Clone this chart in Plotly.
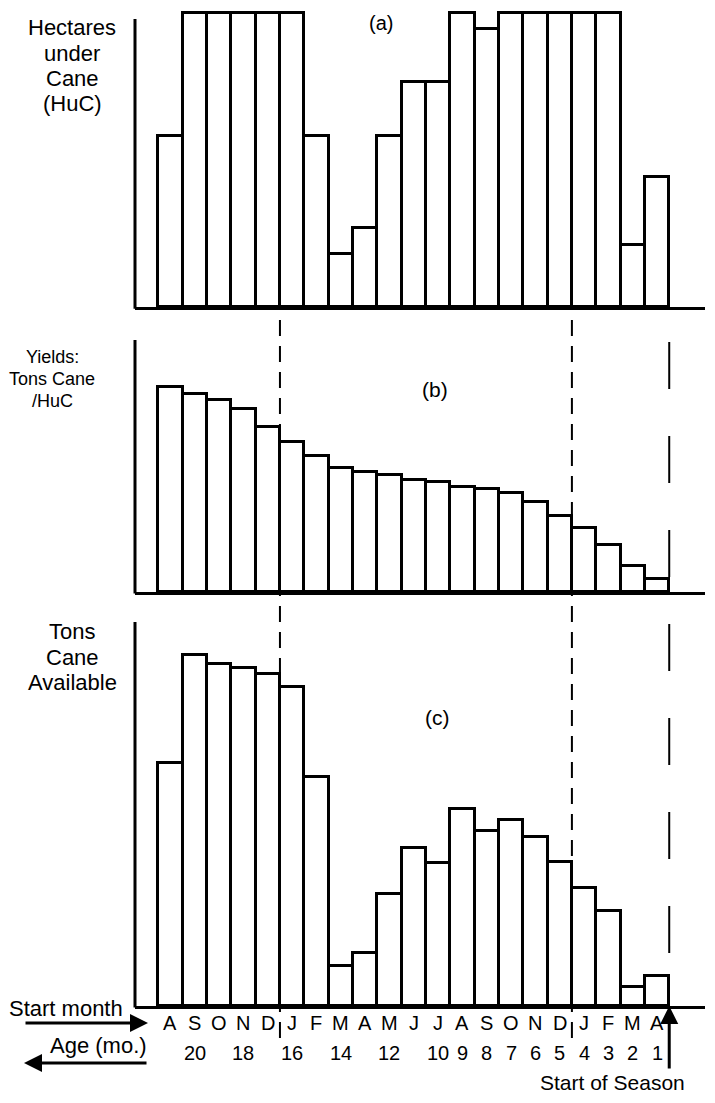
import plotly.graph_objects as go

# ---------------- data ----------------
months = ["A", "S", "O", "N", "D", "J", "F", "M", "A", "M", "J",
          "J", "A", "S", "O", "N", "D", "J", "F", "M", "A"]
age_labels = ["", "20", "", "18", "", "16", "", "14", "", "12", "",
              "10", "9", "8", "7", "6", "5", "4", "3", "2", "1"]
# (a) hectares under cane (relative, full = 1.0)
hectares = [0.583, 1.0, 1.0, 1.0, 1.0, 1.0, 0.583, 0.181, 0.269, 0.583, 0.767,
            0.767, 1.0, 0.946, 1.0, 1.0, 1.0, 1.0, 1.0, 0.212, 0.444]
# (b) yields: tons cane / HuC (relative units)
yields = [102.3, 99.0, 96.0, 91.5, 82.7, 74.8, 68.0, 61.8, 60.2, 58.5, 56.0,
          54.8, 52.3, 51.3, 49.3, 44.8, 38.0, 31.8, 23.5, 13.2, 6.5]
# (c) tons cane available (relative units)
tons = [81.1, 117.0, 114.0, 112.8, 110.6, 106.4, 76.2, 13.3, 17.7, 37.3, 52.6,
        47.8, 65.6, 58.4, 62.0, 56.4, 48.1, 39.4, 31.8, 6.4, 10.0]

# ---------------- layout helpers ----------------
PAGE_W, PAGE_H, OFF = 715, 1103, 8          # page body has an 8px margin
W, H = PAGE_W - 2 * OFF, PAGE_H - 2 * OFF
FONT = "Liberation Sans, Arial, Helvetica, sans-serif"
LW = 3


def py(p):
    return 1 - (p - OFF) / H


def px(p):
    return (p - OFF) / W


xpos = list(range(1, len(months) + 1))
x_left_px, x_right_px, bar0_px, bar_w = 135, 705, 158.3, 24.33
x_range = [0.5 - (bar0_px - x_left_px) / bar_w, 0.5 + (x_right_px - bar0_px) / bar_w]
x_domain = [px(x_left_px), px(x_right_px)]

# panel geometry: (values, baseline px, px per unit, domain top px, axis-line top px)
panels = [
    (hectares, 307.3, 294.0, 9, 19),
    (yields, 592.0, 2.0, 335, 340),
    (tons, 1006.0, 3.0, 612, 622),
]

fig = go.Figure()
layout = dict(
    width=W, height=H, autosize=False,
    margin=dict(l=0, r=0, t=0, b=0, pad=0),
    paper_bgcolor="white", plot_bgcolor="rgba(0,0,0,0)",
    showlegend=False, bargap=0,
    font=dict(family=FONT, color="black", size=20),
)
shapes = []
for k, (vals, base, scale, dtop, ltop) in enumerate(panels, start=1):
    sfx = "" if k == 1 else str(k)
    fig.add_trace(go.Bar(
        x=xpos, y=vals, width=1.0,
        marker=dict(color="white", line=dict(color="black", width=LW)),
        xaxis="x" + sfx, yaxis="y" + sfx, hoverinfo="skip",
    ))
    layout["xaxis" + sfx] = dict(
        domain=x_domain, range=x_range, anchor="y" + sfx,
        showline=True, linewidth=LW, linecolor="black", showgrid=False,
        zeroline=False, showticklabels=False, ticks="", fixedrange=True,
    )
    layout["yaxis" + sfx] = dict(
        domain=[py(base), py(dtop)], range=[0, (base - dtop) / scale],
        anchor="x" + sfx, showline=False, showgrid=False, zeroline=False,
        showticklabels=False, ticks="", fixedrange=True,
    )
    # vertical (y) axis line
    shapes.append(dict(type="line", xref="paper", yref="paper",
                       x0=px(x_left_px), x1=px(x_left_px),
                       y0=py(base + 1.5), y1=py(ltop),
                       line=dict(color="black", width=LW)))

# dashed year boundaries (between D and J) and start-of-season line
year_breaks = [i + 0.5 for i in range(1, len(months)) if months[i - 1] == "D"]
for xb in year_breaks:
    shapes.append(dict(type="line", xref="x3", yref="paper", x0=xb, x1=xb,
                       y0=py(320), y1=py(1040), layer="below",
                       line=dict(color="black", width=2, dash="16px,10px")))
season_x = len(months) + 0.5
shapes.append(dict(type="line", xref="x3", yref="paper", x0=season_x, x1=season_x,
                   y0=py(342), y1=py(955), layer="below",
                   line=dict(color="black", width=2, dash="47px,47px")))
layout["shapes"] = shapes

ann = []


def text(t, x, y, size=22):
    ann.append(dict(text=t, x=px(x), y=py(y), xref="paper", yref="paper",
                    showarrow=False, xanchor="center", yanchor="middle",
                    font=dict(family=FONT, size=size, color="black")))


# left titles (one annotation per line)
for i, t in enumerate(["Hectares", "under", "Cane", "(HuC)"]):
    text(t, 72, 28 + i * 25.3)
for i, t in enumerate(["Yields:", "Tons Cane", "/HuC"]):
    text(t, 52, 357 + i * 22, size=18)
for i, t in enumerate(["Tons", "Cane", "Available"]):
    text(t, 72, 631 + i * 26)

# panel letters
text("(a)", 381, 23, size=20)
text("(b)", 435, 390, size=21)
text("(c)", 437, 717, size=21)

# month and age labels below panel (c)
for xi, m, a in zip(xpos, months, age_labels):
    ann.append(dict(text=m, x=xi, y=py(1023), xref="x3", yref="paper",
                    showarrow=False, xanchor="center", yanchor="middle",
                    font=dict(family=FONT, size=20, color="black")))
    if a:
        ann.append(dict(text=a, x=xi, y=py(1053), xref="x3", yref="paper",
                        showarrow=False, xanchor="center", yanchor="middle",
                        font=dict(family=FONT, size=20, color="black")))

text("Start month", 66, 1008)
text("Age (mo.)", 98, 1045)
text("Start of Season", 612, 1082, size=21)

# arrows
ann.append(dict(x=px(148), y=py(1023), xref="paper", yref="paper",
                ax=-124, ay=0, axref="pixel", ayref="pixel", text="",
                showarrow=True, arrowhead=2, arrowsize=1.2, arrowwidth=3,
                arrowcolor="black"))
ann.append(dict(x=px(24), y=py(1063), xref="paper", yref="paper",
                ax=124, ay=0, axref="pixel", ayref="pixel", text="",
                showarrow=True, arrowhead=2, arrowsize=1.2, arrowwidth=3,
                arrowcolor="black"))
ann.append(dict(x=season_x, y=py(1006), xref="x3", yref="paper",
                ax=0, ay=64, text="", showarrow=True, arrowhead=2,
                arrowsize=1.2, arrowwidth=3, arrowcolor="black"))
layout["annotations"] = ann

fig.update_layout(**layout)
fig.write_html("out.html")
